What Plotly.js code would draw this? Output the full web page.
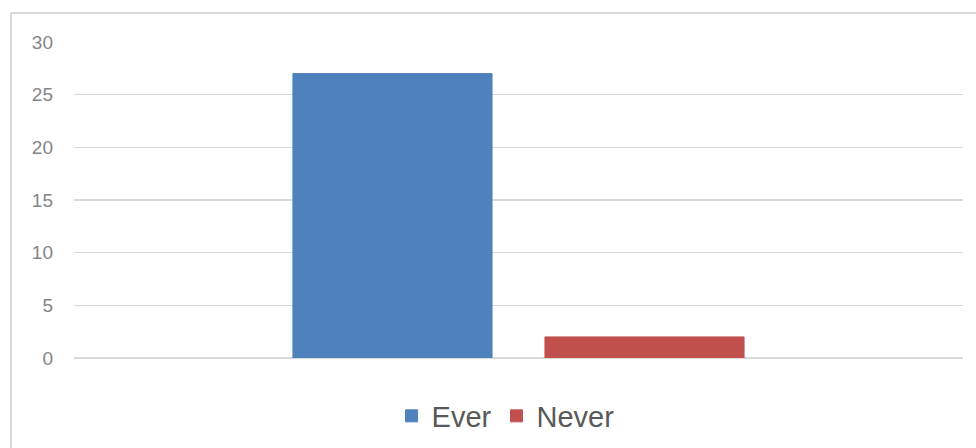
<!DOCTYPE html>
<html>
<head>
<meta charset="utf-8">
<script src="https://cdn.plot.ly/plotly-3.0.1.min.js"></script>
<style>
  html, body { margin: 0; padding: 0; background: #ffffff; }
  #chart { width: 976px; height: 448px; }
</style>
</head>
<body>
<div id="chart"></div>
<script>
// Single category, two clustered series
const categories = ["All"];
const seriesNames = ["Ever", "Never"];
const everValues = [27];
const neverValues = [2];
const yTickValues = [0, 5, 10, 15, 20, 25, 30];
const yTickLabels = ["0", "5", "10", "15", "20", "25", "30"];

const colors = { Ever: "#4f81bd", Never: "#c0504d" };

const traces = [
  { name: seriesNames[0], values: everValues },
  { name: seriesNames[1], values: neverValues }
].map(s => ({
  type: "bar",
  name: s.name,
  x: categories,
  y: s.values,
  marker: { color: colors[s.name], line: { color: colors[s.name], width: 1 } },
  hoverinfo: "name+y"
}));

const layout = {
  width: 976,
  height: 448,
  margin: { l: 74, r: 13, t: 42, b: 90, pad: 0, autoexpand: false },
  paper_bgcolor: "#ffffff",
  plot_bgcolor: "#ffffff",
  barmode: "group",
  bargap: 0.433,
  bargroupgap: 0.21,
  font: { family: "Liberation Sans, Arial, sans-serif", color: "#595959" },
  xaxis: {
    type: "category",
    showticklabels: false,
    showgrid: false,
    zeroline: false,
    showline: false,
    ticks: ""
  },
  yaxis: {
    range: [0, 30],
    tickvals: yTickValues,
    ticktext: yTickLabels,
    showgrid: true,
    gridcolor: "#d9d9d9",
    gridwidth: 1.5,
    zeroline: true,
    zerolinecolor: "#d9d9d9",
    zerolinewidth: 1.5,
    showline: false,
    ticks: "",
    ticklabelstandoff: 20,
    tickfont: { size: 19, color: "#858585", family: "Liberation Sans, Arial, sans-serif" }
  },
  showlegend: true,
  legend: {
    orientation: "h",
    xref: "container",
    yref: "container",
    x: 0.518,
    xanchor: "center",
    y: 0.0714,
    yanchor: "middle",
    font: { size: 29, color: "#595959" },
    itemclick: false,
    itemdoubleclick: false
  },
  shapes: [
    // chart area frame (left and top edges visible)
    { type: "line", xref: "paper", yref: "paper", x0: -0.0709, x1: -0.0709, y0: 1.0918, y1: -0.32,
      line: { color: "#d9d9d9", width: 2 } },
    { type: "line", xref: "paper", yref: "paper", x0: -0.0709, x1: 1.03, y0: 1.0918, y1: 1.0918,
      line: { color: "#d9d9d9", width: 2 } }
  ]
};

Plotly.newPlot("chart", traces, layout, { displayModeBar: false, staticPlot: true });
</script>
</body>
</html>
